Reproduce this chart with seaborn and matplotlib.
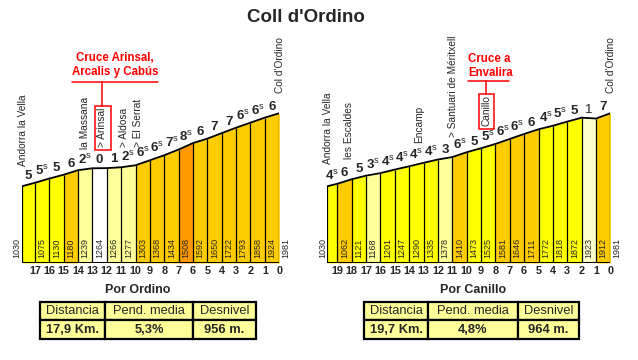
import matplotlib
matplotlib.use("Agg")
import matplotlib.pyplot as plt
from matplotlib.patches import Rectangle
from matplotlib.lines import Line2D
import seaborn as sns

# datos del puerto
titulo = "Coll d'Ordino"

# Por Ordino
ord_km = [17.9, 17, 16, 15, 14, 13, 12, 11, 10, 9, 8, 7, 6, 5, 4, 3, 2, 1, 0]
ord_alt = [1030, 1075, 1130, 1180, 1239, 1264, 1266, 1277, 1303, 1368, 1434,
           1508, 1592, 1650, 1722, 1793, 1858, 1924, 1981]
ord_pend = [5, 5.5, 5, 6, 2.5, 0, 1, 2.5, 6.5, 6.5, 7.5, 8.5, 6, 7, 7, 6.5, 6.5, 6]
ord_datos = ["17,9 Km.", "5,3%", "956 m."]

# Por Canillo
can_km = [19.7, 19, 18, 17, 16, 15, 14, 13, 12, 11, 10, 9, 8, 7, 6, 5, 4, 3, 2, 1, 0]
can_alt = [1030, 1062, 1121, 1168, 1201, 1247, 1290, 1335, 1378, 1410, 1473,
           1525, 1581, 1646, 1711, 1772, 1818, 1872, 1923, 1912, 1981]
can_pend = [4.5, 6, 5, 3.5, 4.5, 4.5, 4.5, 4.5, 3, 6.5, 5, 5.5, 6.5, 6.5, 6,
            4.5, 5.5, 5, -1, 7]
can_datos = ["19,7 Km.", "4,8%", "964 m."]

cabecera = ["Distancia", "Pend. media", "Desnivel"]

sns.set_style("white")
plt.rcParams['font.family'] = ['Liberation Sans', 'DejaVu Sans']
plt.rcParams['mathtext.fontset'] = 'custom'
plt.rcParams['mathtext.rm'] = 'Liberation Sans'
plt.rcParams['mathtext.bf'] = 'Liberation Sans:bold'

W, H = 638, 360
fig = plt.figure(figsize=(W / 100, H / 100), dpi=100)
fig.patch.set_facecolor('white')

BASE = 30        # cota de la base
TOPE = 2010
Y0 = 263         # pixel de la base
ALTO = 152       # alto del eje en pixels


def fx(x):
    return x / W


def fy(y):
    return 1 - y / H


def ay(y):
    # pixel vertical -> fraccion del eje
    return (Y0 - y) / ALTO


def color_pend(p):
    if p < 0:
        return '#FFFFCC'
    if p < 0.5:
        return '#FFFFFF'
    if p < 4:
        return '#FFFF99'
    if p < 6:
        return '#FFFF00'
    if p < 8:
        return '#FFCC00'
    return '#FF9900'


def etiqueta_pend(p):
    v = abs(p)
    ent = int(v)
    if v - ent > 0.1:
        return r"$\mathbf{%d}^{\mathrm{s}}$" % ent
    return "%d" % ent


def perfil(x_izq, km, alt, pend, izq_off, der_off):
    ax = fig.add_axes([fx(x_izq), 1 - Y0 / H, fx(km[0] * 14.37), ALTO / H])
    ax.set_xlim(km[0], 0)
    ax.set_ylim(BASE, TOPE)
    ax.axis('off')
    for i in range(len(pend)):
        ax.fill_between([km[i], km[i + 1]], [BASE, BASE], [alt[i], alt[i + 1]],
                        color=color_pend(pend[i]), lw=0)
    ax.vlines(km, BASE, alt, color='black', lw=0.9)
    sns.lineplot(x=km, y=alt, ax=ax, color='black', lw=1.3, sort=False,
                 legend=False)
    ax.hlines(BASE, km[0], km[-1], color='black', lw=2.2)
    tr = ax.get_xaxis_transform()
    for i in range(len(pend)):
        xc = (km[i] + km[i + 1]) / 2
        ym = (alt[i] + alt[i + 1]) / 2
        ax.annotate(etiqueta_pend(pend[i]), xy=(xc, ym), xytext=(0, 4),
                    textcoords='offset points', ha='center', va='baseline',
                    fontsize=9.5, fontweight='bold' if pend[i] >= 0 else 'normal',
                    annotation_clip=False)
        if i > 0:
            ax.text(xc, ay(258.5), str(alt[i]), rotation=90, ha='center',
                    va='bottom', fontsize=6.5, transform=tr)
    ax.annotate(str(alt[0]), xy=(km[0], ay(258.5)), xycoords=tr,
                xytext=(izq_off, 0), textcoords='offset points', ha='center',
                va='bottom', rotation=90, fontsize=6.5, annotation_clip=False)
    ax.annotate(str(alt[-1]), xy=(km[-1], ay(258.5)), xycoords=tr,
                xytext=(der_off, 0), textcoords='offset points', ha='center',
                va='bottom', rotation=90, fontsize=6.5, annotation_clip=False)
    for k in km[1:]:
        ax.text(k, ay(271), "%d" % k, ha='center', va='center', fontsize=7.8,
                fontweight='bold', transform=tr)
    return ax


perfil(22, ord_km, ord_alt, ord_pend, -3.4, 4.6)
perfil(327.3, can_km, can_alt, can_pend, -3.5, 4.3)

# titulo
fig.text(fx(306), fy(18), titulo, ha='center', va='center', fontsize=13.5,
         fontweight='bold')


def lugar(x, y, txt, caja=None):
    fig.text(fx(x), fy(y), txt, rotation=90, ha='center', va='bottom',
             fontsize=7.3)
    if caja is not None:
        x0, y0, x1, y1 = caja
        fig.add_artist(Rectangle((fx(x0), fy(y1)), fx(x1 - x0), (y1 - y0) / H,
                                 transform=fig.transFigure, fill=False,
                                 edgecolor='#FF0000', lw=1.1))


def linea(xs, ys):
    fig.add_artist(Line2D([fx(x) for x in xs], [fy(y) for y in ys],
                          transform=fig.transFigure, color='#FF0000', lw=1.1))


def rojo(x, y, txt, ha='center'):
    fig.text(fx(x), fy(y), txt, ha=ha, va='center', fontsize=8.3,
             fontweight='bold', color='#FF0000')


# lugares Ordino
lugar(23, 166, "Andorra la Vella")
lugar(85, 149, "la Massana")
lugar(102, 147, "> Arinsal", (94.5, 106, 110.5, 150))
lugar(124, 147, "> Aldosa")
lugar(138, 147, "> El Serrat")
lugar(280, 93, "Col d'Ordino")
rojo(115, 58, "Cruce Arinsal,")
rojo(115, 72, "Arcalis y Cabús")
linea([72, 158], [82, 82])
linea([102, 102], [82, 106])

# lugares Canillo
lugar(328, 164, "Andorra la Vella")
lugar(349, 159, "les Escaldes")
lugar(419, 143, "Encamp")
lugar(453, 137, "> Santuari de Méritxell")
lugar(486, 126, "Canillo", (478.5, 93.5, 493.5, 128.5))
lugar(611, 93, "Col d'Ordino")
rojo(468, 59, "Cruce a", ha='left')
rojo(468, 72.5, "Envalira", ha='left')
linea([468, 509], [81, 81])
linea([486, 486], [81, 93.5])


def tabla(xs, titulo_t, xc, datos):
    fig.text(fx(xc), fy(290), titulo_t, ha='center', va='center', fontsize=9,
             fontweight='bold')
    ys = [302, 320, 339]
    for c in range(3):
        for r in range(2):
            fig.add_artist(Rectangle((fx(xs[c]), fy(ys[r + 1])),
                                     fx(xs[c + 1] - xs[c]),
                                     (ys[r + 1] - ys[r]) / H,
                                     transform=fig.transFigure,
                                     facecolor='#FFFF99', edgecolor='black',
                                     lw=1.6))
        xm = (xs[c] + xs[c + 1]) / 2
        fig.text(fx(xm), fy(311.5), cabecera[c], ha='center', va='center',
                 fontsize=9.3)
        fig.text(fx(xm), fy(330), datos[c], ha='center', va='center',
                 fontsize=9.3, fontweight='bold')


tabla([40, 105, 193, 256], "Por Ordino", 138, ord_datos)
tabla([364, 428, 518, 579], "Por Canillo", 473, can_datos)

fig.savefig("out.png", dpi=100, facecolor='white')
